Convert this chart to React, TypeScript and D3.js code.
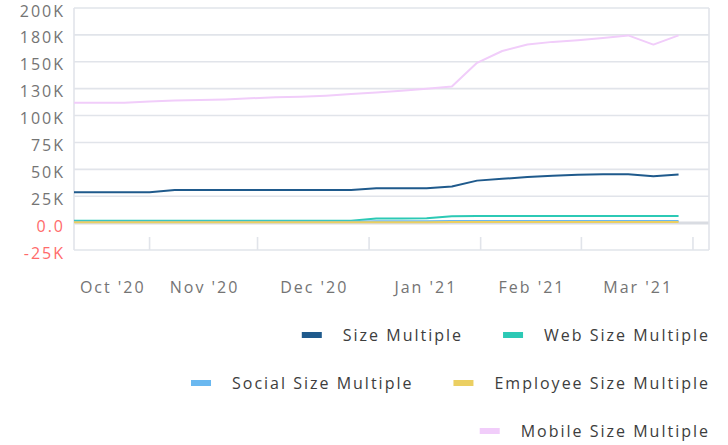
import { useEffect, useRef } from "react"
import * as d3 from "d3"

// weekly points, Sundays from Oct 11 2020 to Mar 28 2021
const weeks = [
  "2020-10-11", "2020-10-18", "2020-10-25", "2020-11-01", "2020-11-08",
  "2020-11-15", "2020-11-22", "2020-11-29", "2020-12-06", "2020-12-13",
  "2020-12-20", "2020-12-27", "2021-01-03", "2021-01-10", "2021-01-17",
  "2021-01-24", "2021-01-31", "2021-02-07", "2021-02-14", "2021-02-21",
  "2021-02-28", "2021-03-07", "2021-03-14", "2021-03-21", "2021-03-28",
]

const sizeMultiple = [
  28.7, 28.7, 28.7, 28.7, 30.8, 30.8, 30.8, 30.8, 30.8, 30.8, 30.8, 30.8,
  32.4, 32.4, 32.5, 34, 39.5, 41.2, 42.8, 44, 45, 45.5, 45.5, 43.5, 45.3,
]
const webSizeMultiple = [
  2.3, 2.3, 2.3, 2.3, 2.3, 2.3, 2.3, 2.3, 2.3, 2.3, 2.3, 2.3,
  4.3, 4.3, 4.5, 6.3, 6.5, 6.5, 6.5, 6.5, 6.5, 6.5, 6.5, 6.5, 6.5,
]
const socialSizeMultiple = [
  1.3, 1.3, 1.3, 1.3, 1.3, 1.3, 1.3, 1.3, 1.3, 1.3, 1.3, 1.3,
  1.8, 1.8, 1.8, 2, 2, 2, 2, 2, 2, 2, 2, 2, 2,
]
const employeeSizeMultiple = [
  0.8, 0.8, 0.8, 0.8, 0.8, 0.8, 0.8, 0.8, 0.8, 0.8, 0.8, 0.8,
  0.9, 0.9, 0.9, 1, 1, 1, 1, 1, 1, 1, 1, 1, 1,
]
const mobileSizeMultiple = [
  112, 112, 112, 113, 114, 114.5, 115, 116, 117, 117.5, 118.5, 120,
  121.5, 123, 125, 127, 149, 160, 166, 168.5, 170, 172, 174.5, 166, 174.5,
]

const seriesNames = [
  "Size Multiple",
  "Web Size Multiple",
  "Social Size Multiple",
  "Employee Size Multiple",
  "Mobile Size Multiple",
]
const seriesColors = ["#1f5a8c", "#2cc9b5", "#6ab8f0", "#ebcf62", "#f1cdfa"]
const seriesValues = [
  sizeMultiple,
  webSizeMultiple,
  socialSizeMultiple,
  employeeSizeMultiple,
  mobileSizeMultiple,
]

const yTicks = [-25, 0, 25, 50, 75, 100, 125, 150, 175, 200]
const yTickLabels = ["-25K", "0.0", "25K", "50K", "75K", "100K", "130K", "150K", "180K", "200K"]

const monthTicks = ["2020-11-01", "2020-12-01", "2021-01-01", "2021-02-01", "2021-03-01", "2021-04-01"]
const monthLabels = ["Oct '20", "Nov '20", "Dec '20", "Jan '21", "Feb '21", "Mar '21"]

// legend rows, right aligned
const legendRows = [[0, 1], [2, 3], [4]]

const FONT = "'Open Sans', sans-serif"
const FS = 16
const LS = 2

export default function App() {
  const svgRef = useRef<SVGSVGElement>(null)

  useEffect(() => {
    if (!svgRef.current) return
    const svg = d3.select(svgRef.current)
    svg.selectAll("*").remove()

    const left = 74
    const right = 709
    const top = 8
    const bottom = 250
    const parse = d3.utcParse("%Y-%m-%d")

    const x = d3
      .scaleUtc()
      .domain([parse("2020-10-11")!, new Date(Date.UTC(2021, 3, 5, 11))])
      .range([left, right])
    const y = d3.scaleLinear().domain([-25, 200]).range([bottom, top])

    const grid = "#e1e4ea"

    // horizontal grid
    svg
      .append("g")
      .selectAll("line")
      .data(yTicks)
      .enter()
      .append("line")
      .attr("x1", left)
      .attr("x2", right)
      .attr("y1", (d) => y(d))
      .attr("y2", (d) => y(d))
      .attr("stroke", (d) => (d === 0 ? "#d9dce2" : grid))
      .attr("stroke-width", (d) => (d === 0 ? 3 : 1.6))

    // borders
    svg.append("line").attr("x1", left).attr("x2", left).attr("y1", top).attr("y2", bottom)
      .attr("stroke", grid).attr("stroke-width", 1.6)
    svg.append("line").attr("x1", right).attr("x2", right).attr("y1", top).attr("y2", bottom)
      .attr("stroke", grid).attr("stroke-width", 1.6)

    // month boundary ticks
    svg
      .append("g")
      .selectAll("line")
      .data(monthTicks.map((d) => parse(d)!))
      .enter()
      .append("line")
      .attr("x1", (d) => x(d))
      .attr("x2", (d) => x(d))
      .attr("y1", bottom - 13)
      .attr("y2", bottom)
      .attr("stroke", grid)
      .attr("stroke-width", 1.6)

    // y labels
    svg
      .append("g")
      .selectAll("text")
      .data(yTicks)
      .enter()
      .append("text")
      .attr("x", 65)
      .attr("y", (d) => y(d) + 8.5)
      .attr("text-anchor", "end")
      .attr("font-family", FONT)
      .attr("font-size", FS)
      .attr("letter-spacing", LS)
      .attr("fill", (d) => (d <= 0 ? "#ff6b6b" : "#747474"))
      .text((d, i) => yTickLabels[i])

    // x labels, centered on the visible part of each month
    const bounds = [x.domain()[0], ...monthTicks.map((d) => parse(d)!)]
    svg
      .append("g")
      .selectAll("text")
      .data(monthLabels)
      .enter()
      .append("text")
      .attr("x", (d, i) => (x(bounds[i]) + x(bounds[i + 1])) / 2 + 1)
      .attr("y", 293)
      .attr("text-anchor", "middle")
      .attr("font-family", FONT)
      .attr("font-size", FS)
      .attr("letter-spacing", LS)
      .attr("fill", "#747474")
      .text((d) => d)

    // lines
    const dates = weeks.map((d) => parse(d)!)
    const line = d3
      .line<number>()
      .x((d, i) => x(dates[i]))
      .y((d) => y(d))

    seriesValues.forEach((vals, k) => {
      svg
        .append("path")
        .datum(vals)
        .attr("fill", "none")
        .attr("stroke", seriesColors[k])
        .attr("stroke-width", 2)
        .attr("stroke-linejoin", "round")
        .attr("d", line)
    })

    // legend
    const legend = svg.append("g")
    legendRows.forEach((row, r) => {
      const cy = 335 + r * 48
      let xEnd = 710
      for (let j = row.length - 1; j >= 0; j--) {
        const k = row[j]
        const t = legend
          .append("text")
          .attr("y", cy + 6)
          .attr("font-family", FONT)
          .attr("font-size", FS)
          .attr("letter-spacing", LS)
          .attr("fill", "#3d3d3d")
          .text(seriesNames[k])
        const w = (t.node() as SVGTextElement).getComputedTextLength()
        const tx = xEnd - w
        t.attr("x", tx)
        legend
          .append("rect")
          .attr("x", tx - 41)
          .attr("y", cy - 3)
          .attr("width", 20)
          .attr("height", 6)
          .attr("fill", seriesColors[k])
        xEnd = tx - 41 - 40
      }
    })
  }, [])

  return (
    <svg
      ref={svgRef}
      width={728}
      height={445}
      style={{ position: "absolute", left: 0, top: 0, background: "#fff" }}
    />
  )
}
